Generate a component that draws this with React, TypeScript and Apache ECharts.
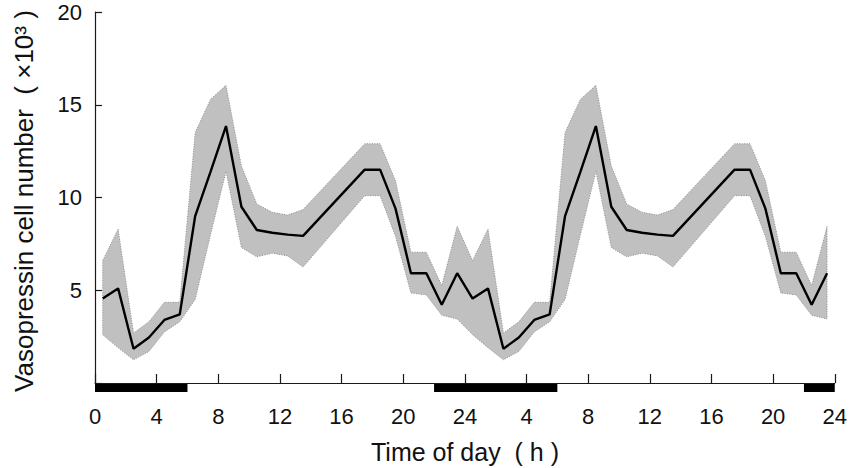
import React, { useEffect, useRef } from "react";
import * as echarts from "echarts";

// Hour of sampling (clock time, h) within one day
const hours = [0.5, 1.5, 2.5, 3.5, 4.5, 5.5, 6.5, 7.5, 8.5, 9.5, 10.5, 11.5, 12.5, 13.5, 17.5, 18.5, 19.5, 20.5, 21.5, 22.5, 23.5];
// Mean vasopressin cell number (x10^3)
const meanCells = [4.55, 5.1, 1.85, 2.45, 3.4, 3.7, 9.0, 11.4, 13.85, 9.5, 8.25, 8.1, 8.0, 7.93, 11.5, 11.5, 9.4, 5.92, 5.92, 4.22, 5.92];
// Upper and lower edge of the error band
const upperCells = [6.6, 8.3, 2.7, 3.3, 4.35, 4.35, 13.5, 15.3, 16.05, 11.7, 9.65, 9.2, 9.05, 9.35, 12.9, 12.9, 10.9, 7.05, 7.05, 5.25, 8.45];
const lowerCells = [2.6, 1.9, 1.25, 1.7, 2.75, 3.3, 4.5, 8.0, 11.4, 7.3, 6.8, 7.0, 6.85, 6.25, 10.1, 10.1, 7.9, 4.85, 4.75, 3.65, 3.45];
// Data are double-plotted over two consecutive days
const plottedDays = [0, 1];
// Dark periods (h on the 48 h axis)
const darkStart = [0, 22, 46];
const darkEnd = [6, 30, 48];
// Tick labels
const xTickLabels = ["0", "4", "8", "12", "16", "20", "24", "4", "8", "12", "16", "20", "24"];
const yTickLabels = ["", "5", "10", "15", "20"];

const FONT = "'Liberation Sans', Arial, Helvetica, sans-serif";

export default function App() {
  const ref = useRef<HTMLDivElement>(null);

  useEffect(() => {
    if (!ref.current) return;
    const chart = echarts.init(ref.current, undefined, { renderer: "svg" });

    const meanData: number[][] = [];
    const upperData: number[][] = [];
    const lowerData: number[][] = [];
    plottedDays.forEach((d) => {
      hours.forEach((h, i) => {
        meanData.push([h + 24 * d, meanCells[i]]);
        upperData.push([h + 24 * d, upperCells[i]]);
        lowerData.push([h + 24 * d, lowerCells[i]]);
      });
    });
    const darkData = darkStart.map((s, i) => [s, darkEnd[i]]);

    const option: any = {
      animation: false,
      backgroundColor: "#ffffff",
      grid: { left: 95, right: 15, top: 12, bottom: 85, containLabel: false },
      xAxis: {
        type: "value",
        min: 0,
        max: 48,
        interval: 4,
        z: 10,
        axisLine: { show: true, lineStyle: { color: "#1a1a1a", width: 1.2 } },
        axisTick: { show: true, inside: true, length: 9, lineStyle: { color: "#1a1a1a", width: 1.2 } },
        splitLine: { show: false },
        axisLabel: {
          margin: 22,
          fontSize: 22,
          color: "#111",
          fontFamily: FONT,
          formatter: (v: number) => xTickLabels[Math.round(v / 4)] ?? "",
        },
      },
      yAxis: {
        type: "value",
        min: 0,
        max: 20,
        interval: 5,
        z: 10,
        axisLine: { show: true, lineStyle: { color: "#1a1a1a", width: 1.2 } },
        axisTick: { show: true, inside: true, length: 7, lineStyle: { color: "#1a1a1a", width: 1.2 } },
        splitLine: { show: false },
        axisLabel: {
          margin: 13,
          fontSize: 22,
          color: "#111",
          fontFamily: FONT,
          formatter: (v: number) => yTickLabels[Math.round(v / 5)] ?? "",
        },
      },
      graphic: [
        {
          type: "text",
          x: 465,
          y: 452,
          style: {
            text: "Time of day\u00a0\u00a0( h )",
            font: `25px ${FONT}`,
            fill: "#111",
            textAlign: "center",
            textVerticalAlign: "middle",
          },
        },
        {
          type: "text",
          x: 24,
          y: 201,
          rotation: Math.PI / 2,
          style: {
            text: "Vasopressin cell number\u00a0\u00a0( ×10³ )",
            font: `26px ${FONT}`,
            fill: "#111",
            textAlign: "center",
            textVerticalAlign: "middle",
          },
        },
      ],
      series: [
        {
          type: "custom",
          name: "band",
          clip: false,
          silent: true,
          z: 1,
          data: [[0, 0]],
          encode: { x: 0, y: 1 },
          renderItem: (_params: any, api: any) => {
            const pts = upperData
              .map((p) => api.coord(p))
              .concat(lowerData.slice().reverse().map((p) => api.coord(p)));
            return {
              type: "polygon",
              shape: { points: pts },
              style: { fill: "#c0c0c0", stroke: "#7a7a7a", lineWidth: 0.8, lineDash: [1, 1.5] },
            };
          },
        },
        {
          type: "line",
          name: "mean",
          data: meanData,
          symbol: "none",
          z: 3,
          lineStyle: { color: "#000", width: 2.4 },
        },
        {
          type: "custom",
          name: "dark",
          clip: false,
          silent: true,
          z: 4,
          data: darkData,
          encode: { x: [0, 1] },
          renderItem: (_params: any, api: any) => {
            const a = api.coord([api.value(0), 0]);
            const b = api.coord([api.value(1), 0]);
            return {
              type: "rect",
              shape: { x: a[0], y: a[1], width: b[0] - a[0], height: 9 },
              style: { fill: "#000" },
            };
          },
        },
      ],
    };

    chart.setOption(option);
    return () => chart.dispose();
  }, []);

  return (
    <div
      ref={ref}
      style={{ position: "fixed", left: 0, top: 0, width: 850, height: 468, background: "#fff" }}
    />
  );
}
